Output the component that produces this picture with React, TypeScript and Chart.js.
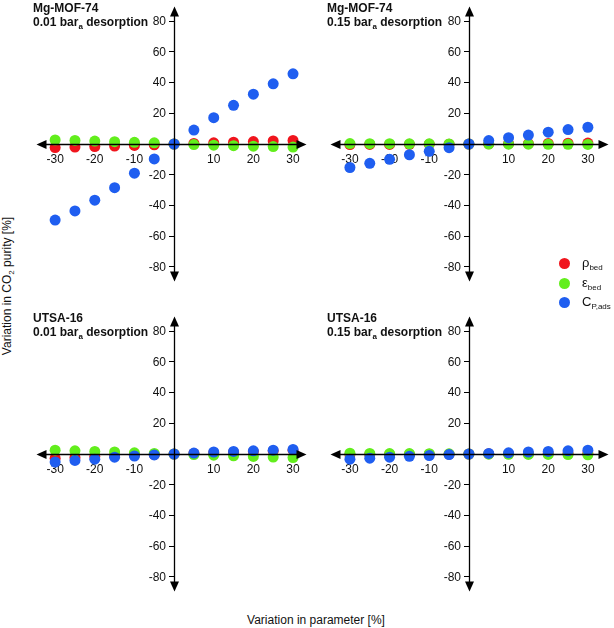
import React, { useEffect, useRef } from "react";
import { Chart, registerables } from "chart.js";

Chart.register(...registerables);

// ---------- data ----------
const paramVariation = [-30, -25, -20, -15, -10, -5, 0, 5, 10, 15, 20, 25, 30];

const mofLowRho = [-2.3, -2.0, -1.7, -1.3, -0.9, -0.5, 0, 0.4, 0.8, 1.2, 1.6, 2.0, 2.3];
const mofLowEps = [2.6, 2.3, 1.9, 1.5, 1.1, 0.8, 0, -0.4, -0.8, -1.1, -1.4, -1.7, -2.0];
const mofLowCp = [-49.5, -43.6, -36.6, -28.4, -19.0, -9.7, 0, 9.1, 17.1, 25.2, 32.4, 39.2, 45.7];

const mofHighRho = [-0.4, -0.3, -0.3, -0.2, -0.1, -0.1, 0, 0.1, 0.2, 0.3, 0.4, 0.5, 0.6];
const mofHighEps = [0.3, 0.2, 0.2, 0.1, 0.1, 0, 0, 0, -0.1, -0.1, -0.2, -0.2, -0.3];
const mofHighCp = [-15.3, -12.6, -10.0, -7.0, -4.8, -2.4, 0, 2.2, 4.1, 5.8, 7.7, 9.4, 10.9];

const utsaLowRho = [-2.7, -2.2, -1.7, -1.3, -0.8, -0.4, 0, 0.4, 0.8, 1.2, 1.6, 2.0, 2.4];
const utsaLowEps = [2.5, 2.1, 1.7, 1.3, 0.8, 0.4, 0, -0.4, -0.8, -1.2, -1.6, -2.0, -2.3];
const utsaLowCp = [-5.2, -4.2, -3.4, -2.1, -1.3, -0.6, 0, 0.6, 1.3, 1.7, 2.1, 2.5, 3.0];

const utsaHighRho = [-0.4, -0.3, -0.3, -0.2, -0.1, -0.1, 0, 0.1, 0.1, 0.2, 0.3, 0.3, 0.4];
const utsaHighEps = [0.5, 0.4, 0.3, 0.3, 0.2, 0.1, 0, -0.1, -0.2, -0.3, -0.3, -0.4, -0.5];
const utsaHighCp = [-3.4, -2.7, -2.1, -1.5, -1.0, -0.4, 0, 0.4, 0.8, 1.3, 1.7, 2.1, 2.5];

const xTickValues = [-30, -25, -20, -15, -10, -5, 5, 10, 15, 20, 25, 30];
const xTickLabels = [-30, -20, -10, 10, 20, 30];
const yTickValues = [-80, -60, -40, -20, 20, 40, 60, 80];

const seriesLabels = ["ρbed", "εbed", "CP,ads"];
const RED = "#f0151d";
const GREEN = "#62ee1c";
const BLUE = "#1f5ef0";
const FONT = '"Liberation Sans", Arial, Helvetica, sans-serif';

// ---------- plugin: axis lines with arrow heads + y tick labels ----------
const axisArrows = {
  id: "axisArrows",
  afterDraw(chart: any) {
    const { ctx, chartArea, scales } = chart;
    const x0 = Math.round(scales.x.getPixelForValue(0)) + 0.5;
    const y0 = Math.round(scales.y.getPixelForValue(0)) + 0.5;
    const L = 10;
    const W = 4.5;
    ctx.save();
    ctx.strokeStyle = "#000";
    ctx.fillStyle = "#000";
    ctx.lineWidth = 1.3;
    ctx.beginPath();
    ctx.moveTo(chartArea.left + 4, y0);
    ctx.lineTo(chartArea.right - 4, y0);
    ctx.moveTo(x0, chartArea.top + 4);
    ctx.lineTo(x0, chartArea.bottom - 4);
    ctx.stroke();
    const tri = (pts: number[][]) => {
      ctx.beginPath();
      ctx.moveTo(pts[0][0], pts[0][1]);
      ctx.lineTo(pts[1][0], pts[1][1]);
      ctx.lineTo(pts[2][0], pts[2][1]);
      ctx.closePath();
      ctx.fill();
    };
    tri([[chartArea.left, y0], [chartArea.left + L, y0 - W], [chartArea.left + L, y0 + W]]);
    tri([[chartArea.right, y0], [chartArea.right - L, y0 - W], [chartArea.right - L, y0 + W]]);
    tri([[x0, chartArea.top], [x0 - W, chartArea.top + L], [x0 + W, chartArea.top + L]]);
    tri([[x0, chartArea.bottom], [x0 - W, chartArea.bottom - L], [x0 + W, chartArea.bottom - L]]);

    // y tick labels, right-aligned left of the tick marks
    ctx.fillStyle = "#111";
    ctx.font = `12px ${FONT}`;
    ctx.textAlign = "right";
    ctx.textBaseline = "middle";
    for (const v of yTickValues) {
      ctx.fillText(String(v), x0 - 8.5, scales.y.getPixelForValue(v) + 0.5);
    }
    ctx.restore();
  },
};

const PAD = 2;

type PanelProps = {
  areaLeft: number;
  areaTop: number;
  areaRight: number;
  areaBottom: number;
  xMin: number;
  xMax: number;
  rho: number[];
  eps: number[];
  cp: number[];
};

function Panel(p: PanelProps) {
  const ref = useRef<HTMLCanvasElement>(null);
  const width = p.areaRight - p.areaLeft + PAD * 2;
  const height = p.areaBottom - p.areaTop + PAD * 2;

  useEffect(() => {
    const mk = (vals: number[]) => paramVariation.map((x, i) => ({ x, y: vals[i] }));
    const ds = (label: string, vals: number[], color: string, order: number) => ({
      label,
      data: mk(vals),
      backgroundColor: color,
      borderColor: color,
      pointRadius: 5.5,
      pointBorderWidth: 0,
      borderWidth: 0,
      order,
    });
    const tickFont = { family: FONT, size: 12 };
    const chart = new Chart(ref.current as HTMLCanvasElement, {
      type: "scatter",
      data: {
        datasets: [
          ds(seriesLabels[0], p.rho, RED, 3),
          ds(seriesLabels[1], p.eps, GREEN, 2),
          ds(seriesLabels[2], p.cp, BLUE, 1),
        ],
      },
      options: {
        responsive: false,
        animation: false,
        events: [],
        layout: { padding: PAD },
        plugins: { legend: { display: false }, tooltip: { enabled: false } },
        scales: {
          x: {
            type: "linear",
            min: p.xMin,
            max: p.xMax,
            position: { y: 0 } as any,
            z: 1,
            afterBuildTicks: (s: any) => {
              s.ticks = xTickValues.map((v) => ({ value: v }));
            },
            afterFit: (s: any) => {
              s.height = 0;
              s.paddingLeft = 0;
              s.paddingRight = 0;
            },
            grid: {
              drawOnChartArea: false,
              drawTicks: true,
              tickLength: 5,
              color: "#000",
              tickColor: "#000",
              tickWidth: 1,
            },
            border: { display: false },
            ticks: {
              autoSkip: false,
              maxRotation: 0,
              padding: 3,
              color: "#111",
              font: tickFont,
              callback: (v: any) => (xTickLabels.includes(Number(v)) ? String(v) : ""),
            },
          },
          y: {
            type: "linear",
            min: -89.5,
            max: 89.5,
            position: { x: 0 } as any,
            z: 1,
            afterBuildTicks: (s: any) => {
              s.ticks = yTickValues.map((v) => ({ value: v }));
            },
            afterFit: (s: any) => {
              s.width = 0;
              s.paddingTop = 0;
              s.paddingBottom = 0;
            },
            grid: {
              drawOnChartArea: false,
              drawTicks: true,
              tickLength: 5,
              color: "#000",
              tickColor: "#000",
              tickWidth: 1,
            },
            border: { display: false },
            ticks: {
              display: false,
              autoSkip: false,
            },
          },
        },
      } as any,
      plugins: [axisArrows],
    });
    return () => chart.destroy();
  }, []);

  return (
    <canvas
      ref={ref}
      width={width}
      height={height}
      style={{ position: "absolute", left: p.areaLeft - PAD, top: p.areaTop - PAD, width, height }}
    />
  );
}

function Title({ left, top, name, pressure }: { left: number; top: number; name: string; pressure: string }) {
  return (
    <div
      style={{
        position: "absolute",
        left,
        top,
        fontFamily: FONT,
        fontWeight: "bold",
        fontSize: 12,
        lineHeight: "14px",
        color: "#111",
        whiteSpace: "nowrap",
      }}
    >
      <div>{name}</div>
      <div>
        {pressure} bar
        <sub style={{ fontSize: 8, verticalAlign: "-3px", lineHeight: 0 }}>a</sub> desorption
      </div>
    </div>
  );
}

function LegendRow({ top, color, main, sub }: { top: number; color: string; main: string; sub: string }) {
  return (
    <div style={{ position: "absolute", left: 559, top: top - 8, height: 16, display: "flex", alignItems: "center" }}>
      <div style={{ width: 11, height: 11, borderRadius: "50%", background: color }} />
      <div style={{ marginLeft: 12, fontFamily: FONT, fontSize: 13, color: "#111", whiteSpace: "nowrap", lineHeight: "16px" }}>
        {main}
        <sub style={{ fontSize: 8, verticalAlign: "-3px", lineHeight: 0 }}>{sub}</sub>
      </div>
    </div>
  );
}

export default function App() {
  return (
    <div
      style={{
        position: "fixed",
        left: 0,
        top: 0,
        width: 614,
        height: 628,
        background: "#fff",
        overflow: "hidden",
      }}
    >
      <Panel areaLeft={33} areaTop={3} areaRight={310} areaBottom={285} xMin={-34.7} xMax={33.4} rho={mofLowRho} eps={mofLowEps} cp={mofLowCp} />
      <Panel areaLeft={327} areaTop={3} areaRight={612} areaBottom={285} xMin={-34.9} xMax={35.2} rho={mofHighRho} eps={mofHighEps} cp={mofHighCp} />
      <Panel areaLeft={33} areaTop={313} areaRight={310} areaBottom={595} xMin={-34.7} xMax={33.4} rho={utsaLowRho} eps={utsaLowEps} cp={utsaLowCp} />
      <Panel areaLeft={327} areaTop={313} areaRight={612} areaBottom={595} xMin={-34.9} xMax={35.2} rho={utsaHighRho} eps={utsaHighEps} cp={utsaHighCp} />

      <Title left={33} top={1} name="Mg-MOF-74" pressure="0.01" />
      <Title left={327} top={1} name="Mg-MOF-74" pressure="0.15" />
      <Title left={33} top={311} name="UTSA-16" pressure="0.01" />
      <Title left={327} top={311} name="UTSA-16" pressure="0.15" />

      <LegendRow top={263} color={RED} main="ρ" sub="bed" />
      <LegendRow top={283} color={GREEN} main="ε" sub="bed" />
      <LegendRow top={302} color={BLUE} main="C" sub="P,ads" />

      <div
        style={{
          position: "absolute",
          left: 7,
          top: 286,
          transform: "translate(-50%, -50%) rotate(-90deg)",
          fontFamily: FONT,
          fontSize: 12,
          color: "#111",
          whiteSpace: "nowrap",
          lineHeight: "14px",
        }}
      >
        Variation in CO<sub style={{ fontSize: 8, verticalAlign: "-3px", lineHeight: 0 }}>2</sub> purity [%]
      </div>
      <div
        style={{
          position: "absolute",
          left: 316,
          top: 620,
          transform: "translate(-50%, -50%)",
          fontFamily: FONT,
          fontSize: 12,
          color: "#111",
          whiteSpace: "nowrap",
          lineHeight: "14px",
        }}
      >
        Variation in parameter [%]
      </div>
    </div>
  );
}
